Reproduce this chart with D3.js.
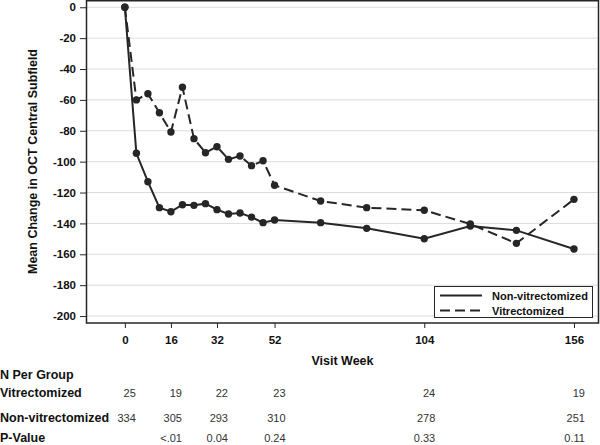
<!DOCTYPE html>
<html>
<head>
<meta charset="utf-8">
<script src="https://cdn.jsdelivr.net/npm/d3@7"></script>
<style>
  html, body { margin: 0; padding: 0; background: #fff; }
  svg { display: block; font-family: "Liberation Sans", Arial, sans-serif; }
</style>
</head>
<body>
<svg id="chart" width="600" height="445"></svg>
<script>
// ---- data ----
const weeks = [0, 4, 8, 12, 16, 20, 24, 28, 32, 36, 40, 44, 48, 52, 68, 84, 104, 120, 136, 156];
const nonVitrectomized = [0, -94.6, -113, -129.8, -132.4, -127.9, -128.3, -127.2, -131.1, -133.9, -133.3, -135.9, -139.5, -137.8, -139.5, -143.2, -149.9, -141.7, -144.5, -156.6];
const vitrectomized = [0, -60, -56, -68.3, -80.8, -51.8, -85.1, -94.2, -90.3, -98.5, -96.3, -102.6, -99.4, -115.3, -125.5, -129.8, -131.5, -140.4, -152.9, -124.4];
const seriesNames = ["Non-vitrectomized", "Vitrectomized"];
const xTicks = [0, 16, 32, 52, 104, 156];
const yTicks = [0, -20, -40, -60, -80, -100, -120, -140, -160, -180, -200];
const tableWeeks = [0, 16, 32, 52, 104, 156];
const nVit = ["25", "19", "22", "23", "24", "19"];
const nNonVit = ["334", "305", "293", "310", "278", "251"];
const pValues = ["", "<.01", "0.04", "0.24", "0.33", "0.11"];
const rowLabels = ["N Per Group", "Vitrectomized", "Non-vitrectomized", "P-Value"];

// ---- layout ----
const svg = d3.select("#chart");
const plot = { left: 86, right: 599, top: 0, bottom: 323 };
const x = d3.scaleLinear().domain([-13.5, 164.7]).range([plot.left, plot.right]);
const y = d3.scaleLinear().domain([-204.5, 4.7]).range([plot.bottom, plot.top]);
const ink = "#262626";

// gridlines
svg.append("g").selectAll("line").data(yTicks).join("line")
  .attr("x1", plot.left).attr("x2", plot.right)
  .attr("y1", d => y(d)).attr("y2", d => y(d))
  .attr("stroke", "#dcdcdc").attr("stroke-width", 1);

// frame
svg.append("rect")
  .attr("x", plot.left + 0.5).attr("y", plot.top + 0.75)
  .attr("width", plot.right - plot.left - 1).attr("height", plot.bottom - plot.top - 0.75)
  .attr("fill", "none").attr("stroke", ink).attr("stroke-width", 1.5);

// axes
const yAxis = d3.axisLeft(y).tickValues(yTicks).tickSize(6).tickPadding(4).tickFormat(d => String(d));
const gy = svg.append("g").attr("transform", `translate(${plot.left},0)`).call(yAxis);
gy.select(".domain").remove();
gy.selectAll(".tick line").attr("stroke", ink);
gy.selectAll(".tick text").attr("fill", "#111").attr("font-size", "11.5px").attr("font-weight", "bold")
  .attr("font-family", "Liberation Sans, Arial, sans-serif");

const xAxis = d3.axisBottom(x).tickValues(xTicks).tickSize(5).tickPadding(8).tickFormat(d => String(d));
const gx = svg.append("g").attr("transform", `translate(0,${plot.bottom})`).call(xAxis);
gx.select(".domain").remove();
gx.selectAll(".tick line").attr("stroke", ink);
gx.selectAll(".tick text").attr("fill", "#111").attr("font-size", "11.5px").attr("font-weight", "bold")
  .attr("font-family", "Liberation Sans, Arial, sans-serif");

// axis labels
svg.append("text")
  .attr("transform", `translate(36.5,${(plot.top + plot.bottom) / 2}) rotate(-90)`)
  .attr("text-anchor", "middle").attr("font-size", "12.5px").attr("font-weight", "bold").attr("fill", "#111")
  .text("Mean Change in OCT Central Subfield");
svg.append("text")
  .attr("x", (plot.left + plot.right) / 2).attr("y", 365)
  .attr("text-anchor", "middle").attr("font-size", "12.5px").attr("font-weight", "bold").attr("fill", "#111")
  .text("Visit Week");

// series
const series = [
  { name: seriesNames[0], values: nonVitrectomized, dash: null },
  { name: seriesNames[1], values: vitrectomized, dash: "10,5" }
];
const line = d3.line().x(d => x(d[0])).y(d => y(d[1]));
series.forEach(s => {
  const pts = weeks.map((w, i) => [w, s.values[i]]);
  svg.append("path").datum(pts)
    .attr("d", line).attr("fill", "none").attr("stroke", ink).attr("stroke-width", 2)
    .attr("stroke-dasharray", s.dash);
  svg.append("g").selectAll("circle").data(pts).join("circle")
    .attr("cx", d => x(d[0])).attr("cy", d => y(d[1])).attr("r", 3.7).attr("fill", ink);
});

// legend
const lg = svg.append("g");
lg.append("rect").attr("x", 434.5).attr("y", 286.5).attr("width", 158).attr("height", 31)
  .attr("fill", "#fff").attr("stroke", ink).attr("stroke-width", 1);
series.forEach((s, i) => {
  const ly = 295.5 + i * 15;
  lg.append("line").attr("x1", 440).attr("x2", 482).attr("y1", ly).attr("y2", ly)
    .attr("stroke", ink).attr("stroke-width", 2).attr("stroke-dasharray", s.dash);
  lg.append("text").attr("x", 492).attr("y", ly + 4).attr("font-size", "11px").attr("font-weight", "bold")
    .attr("fill", "#111").text(s.name);
});

// table
const rowY = [378.5, 397, 421.5, 441.5];
rowLabels.forEach((lab, i) => {
  svg.append("text").attr("x", 0).attr("y", rowY[i]).attr("font-size", "12.5px").attr("font-weight", "bold")
    .attr("fill", "#111").text(lab);
});
[nVit, nNonVit, pValues].forEach((row, r) => {
  svg.append("g").selectAll("text").data(row).join("text")
    .attr("x", (d, i) => x(tableWeeks[i]) + 11).attr("y", rowY[r + 1])
    .attr("text-anchor", "end").attr("font-size", "11px").attr("fill", "#333")
    .text(d => d);
});
</script>
</body>
</html>
